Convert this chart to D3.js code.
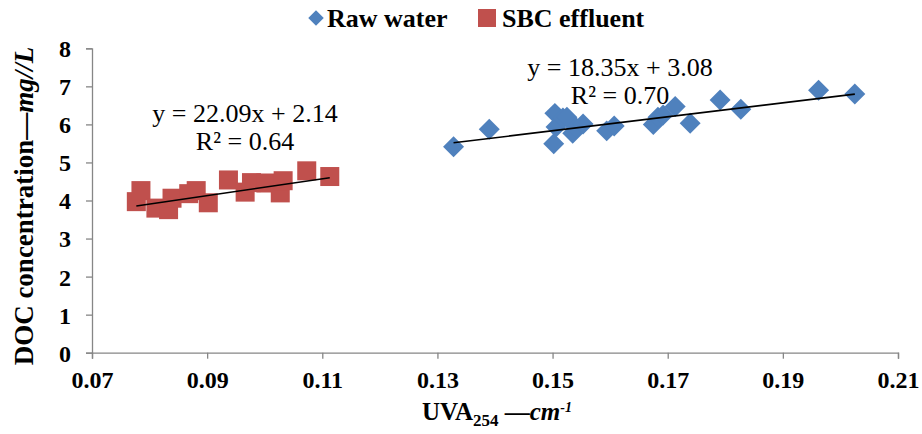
<!DOCTYPE html>
<html>
<head>
<meta charset="utf-8">
<script src="https://cdn.jsdelivr.net/npm/d3@7"></script>
<style>
  html, body { margin: 0; padding: 0; background: #fff; }
  svg { display: block; font-family: "Liberation Serif", "Times New Roman", serif; }
</style>
</head>
<body>
<svg id="chart" width="922" height="434"></svg>
<script>
// UVA254 (cm^-1) and DOC (mg/L) for raw water samples
const rawUVA = [0.1328, 0.1390, 0.1502, 0.1504, 0.1506, 0.1518, 0.1525, 0.1535, 0.1541, 0.1553,
                0.1594, 0.1607, 0.1675, 0.1683, 0.1692, 0.1713, 0.1739, 0.1791, 0.1827, 0.1962, 0.2025];
const rawDOC = [5.41, 5.87, 5.49, 6.29, 5.93, 6.17, 6.19, 5.77, 5.91, 6.01,
                5.83, 5.96, 6.00, 6.19, 6.25, 6.47, 6.03, 6.64, 6.40, 6.90, 6.80];

// UVA254 and DOC for the SBC effluent
const sbcUVA = [0.0777, 0.0785, 0.0811, 0.0833, 0.0839, 0.0868, 0.0881, 0.0902,
                0.0937, 0.0966, 0.0977, 0.1002, 0.1027, 0.1032, 0.1073, 0.1113];
const sbcDOC = [3.97, 4.26, 3.80, 3.76, 4.06, 4.18, 4.26, 3.94,
                4.54, 4.22, 4.47, 4.46, 4.20, 4.52, 4.78, 4.63];

// Linear fits reported on the chart
const rawFit = { slope: 18.35, intercept: 3.08, r2: "0.70" };
const sbcFit = { slope: 22.09, intercept: 2.14, r2: "0.64" };

const xTicks = [0.07, 0.09, 0.11, 0.13, 0.15, 0.17, 0.19, 0.21];
const yTicks = [0, 1, 2, 3, 4, 5, 6, 7, 8];
const seriesNames = ["Raw water", "SBC effluent"];

const BLUE = "#4F81BD", RED = "#C0504D", AXIS = "#868686";

const svg = d3.select("#chart");
const x = d3.scaleLinear().domain([0.07, 0.21]).range([92, 898]);
const y = d3.scaleLinear().domain([0, 8]).range([352.7, 48.3]);

// axes
const xAxis = svg.append("g").attr("transform", `translate(0,${y(0)})`)
  .call(d3.axisBottom(x).tickValues(xTicks).tickFormat(d3.format(".2f")).tickSize(6).tickPadding(12));
const yAxis = svg.append("g").attr("transform", `translate(${x(0.07)},0)`)
  .call(d3.axisLeft(y).tickValues(yTicks).tickFormat(d3.format("d")).tickSize(6).tickPadding(15));
[xAxis, yAxis].forEach(g => {
  g.select(".domain").attr("stroke", AXIS).attr("stroke-width", 1.3);
  g.selectAll(".tick line").attr("stroke", AXIS).attr("stroke-width", 1.3);
  g.selectAll(".tick text").attr("fill", "#000").attr("font-family", "Liberation Serif")
    .attr("font-weight", "bold").attr("font-size", 24);
});
yAxis.selectAll(".tick text").attr("dy", "0.35em");

// markers
const diamond = d3.symbol().type(d3.symbolSquare).size(220);
svg.append("g").selectAll("path").data(rawUVA.map((u, i) => [u, rawDOC[i]])).join("path")
  .attr("d", diamond)
  .attr("transform", d => `translate(${x(d[0])},${y(d[1])}) rotate(45)`)
  .attr("fill", BLUE);

const sq = 19;
svg.append("g").selectAll("rect").data(sbcUVA.map((u, i) => [u, sbcDOC[i]])).join("rect")
  .attr("x", d => x(d[0]) - sq / 2).attr("y", d => y(d[1]) - sq / 2)
  .attr("width", sq).attr("height", sq)
  .attr("fill", RED);

// trend lines over each data range
function trend(xs, fit) {
  const [a, b] = d3.extent(xs);
  svg.append("line")
    .attr("x1", x(a)).attr("y1", y(fit.slope * a + fit.intercept))
    .attr("x2", x(b)).attr("y2", y(fit.slope * b + fit.intercept))
    .attr("stroke", "#000").attr("stroke-width", 1.6);
}
trend(sbcUVA, sbcFit);
trend(rawUVA, rawFit);

// equation labels
function eqLabel(cx, cy, fit) {
  const g = svg.append("g").attr("font-size", 26).attr("text-anchor", "middle").attr("fill", "#000");
  g.append("text").attr("x", cx).attr("y", cy)
    .text(`y = ${fit.slope.toFixed(2)}x + ${fit.intercept.toFixed(2)}`);
  g.append("text").attr("x", cx).attr("y", cy + 28).text(`R² = ${fit.r2}`);
}
eqLabel(245, 122, sbcFit);
eqLabel(620, 76, rawFit);

// legend
const leg = svg.append("g").attr("font-size", 26).attr("font-weight", "bold");
leg.append("path").attr("d", d3.symbol().type(d3.symbolSquare).size(120))
  .attr("transform", "translate(316,18) rotate(45)").attr("fill", BLUE);
leg.append("text").attr("x", 327).attr("y", 27).text(seriesNames[0]);
leg.append("rect").attr("x", 478).attr("y", 9).attr("width", 18).attr("height", 18).attr("fill", RED);
leg.append("text").attr("x", 502).attr("y", 27).text(seriesNames[1]);

// axis titles
const xt = svg.append("text").attr("x", 497).attr("y", 420).attr("text-anchor", "middle")
  .attr("font-size", 25).attr("font-weight", "bold");
xt.append("tspan").text("UVA");
xt.append("tspan").attr("font-size", 17).attr("dy", 6).text("254");
xt.append("tspan").attr("dy", -6).text(" —");
xt.append("tspan").attr("font-style", "italic").text("cm");
xt.append("tspan").attr("font-style", "italic").attr("font-size", 14).attr("dy", -8).text("-1");

const yt = svg.append("text").attr("transform", "translate(33,206) rotate(-90)")
  .attr("text-anchor", "middle").attr("font-size", 27).attr("font-weight", "bold");
yt.append("tspan").text("DOC concentration—");
yt.append("tspan").attr("font-style", "italic").text("mg//L");
</script>
</body>
</html>
